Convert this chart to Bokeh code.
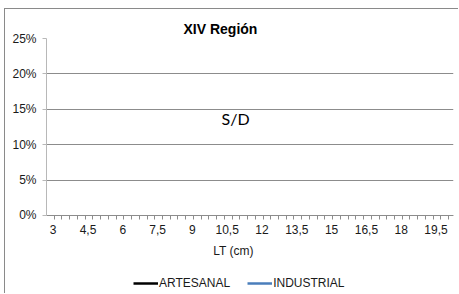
from bokeh.plotting import figure
from bokeh.models import (FixedTicker, CustomJSTickFormatter, Legend, LegendItem,
                          Label, Range1d, InlineStyleSheet)
from bokeh.embed import file_html
from bokeh.resources import INLINE

nan = float("nan")

# ---- data ----
title_text = "XIV Región"
x_title = "LT (cm)"
no_data_text = "S/D"
x_ticks = [3, 4.5, 6, 7.5, 9, 10.5, 12, 13.5, 15, 16.5, 18, 19.5]
x_tick_labels = ["3", "4,5", "6", "7,5", "9", "10,5", "12", "13,5", "15", "16,5", "18", "19,5"]
y_ticks = [0, 0.05, 0.10, 0.15, 0.20, 0.25]
y_tick_labels = ["0%", "5%", "10%", "15%", "20%", "25%"]
series_names = ["ARTESANAL", "INDUSTRIAL"]
series_colors = ["#000000", "#4a7ebb"]
# no data (S/D) for every length class
artesanal = [nan, nan, nan, nan, nan, nan, nan, nan, nan, nan, nan, nan]
industrial = [nan, nan, nan, nan, nan, nan, nan, nan, nan, nan, nan, nan]

# ---- layout ----
x_lo, x_hi = 2.711, 20.254
y_lo, y_hi = -0.1116, 0.25
minor = []
k = 1
while x_lo + k / 3 < x_hi:
    minor.append(x_lo + k / 3)
    k += 1

css = InlineStyleSheet(css=":host { position: absolute; left: 5px; top: 9px; "
                           "box-shadow: -1px -1px 0 0 #8a8a8a; }")

p = figure(width=454, height=285, x_range=Range1d(x_lo, x_hi), y_range=Range1d(y_lo, y_hi),
           output_backend="svg", toolbar_location=None,
           min_border_left=41, min_border_right=6, min_border_top=29, min_border_bottom=0,
           background_fill_color="white", border_fill_color="white",
           outline_line_color=None, stylesheets=[css])

font = "Liberation Sans"
txt_color = "#1a1a1a"

p.title.text = title_text
p.title.align = "left"
p.title.offset = 137
p.title.standoff = 3
p.title.text_font = font
p.title.text_font_size = "14px"
p.title.text_font_style = "bold"
p.title.text_color = "#000000"

xa = p.xaxis[0]
xa.fixed_location = 0
xa.ticker = FixedTicker(ticks=x_ticks, minor_ticks=minor)
xa.formatter = CustomJSTickFormatter(args=dict(tv=x_ticks, tl=x_tick_labels),
                                     code="const i = tv.indexOf(tick); return i < 0 ? '' : tl[i];")
xa.major_tick_out = 0
xa.major_tick_in = 0
xa.minor_tick_out = 4
xa.minor_tick_in = 0
xa.minor_tick_line_color = "#8c8c8c"
xa.axis_line_color = "#8c8c8c"
xa.major_label_standoff = 6
xa.major_label_text_font = font
xa.major_label_text_font_size = "12px"
xa.major_label_text_color = txt_color

ya = p.yaxis[0]
ya.bounds = (0, 0.25)
ya.ticker = FixedTicker(ticks=y_ticks, minor_ticks=[])
ya.formatter = CustomJSTickFormatter(args=dict(tv=y_ticks, tl=y_tick_labels),
                                     code="const i = tv.indexOf(tick); return i < 0 ? '' : tl[i];")
ya.major_tick_out = 4
ya.major_tick_in = 0
ya.minor_tick_out = 0
ya.minor_tick_in = 0
ya.axis_line_color = "#b8b8b8"
ya.major_tick_line_color = "#b8b8b8"
ya.major_label_standoff = 6
ya.major_label_text_font = font
ya.major_label_text_font_size = "12px"
ya.major_label_text_color = txt_color

p.xgrid.visible = False
p.ygrid.ticker = FixedTicker(ticks=y_ticks)
p.ygrid.grid_line_color = "#8c8c8c"

r1 = p.line(x_ticks, artesanal, line_color=series_colors[0], line_width=2.5)
r2 = p.line(x_ticks, industrial, line_color=series_colors[1], line_width=2.5)

legend = Legend(items=[LegendItem(label=series_names[0], renderers=[r1]),
                       LegendItem(label=series_names[1], renderers=[r2])],
                orientation="horizontal", location=(87, 4), padding=0, margin=0,
                spacing=17, label_standoff=1, glyph_width=25, glyph_height=12,
                label_height=12, border_line_color=None, background_fill_alpha=0,
                label_text_font=font, label_text_font_size="12px",
                label_text_color=txt_color)
p.add_layout(legend, "center")

p.add_layout(Label(x=10.77, y=-0.0508, text=x_title, text_align="center",
                   text_baseline="middle", text_font=font, text_font_size="12px",
                   text_color=txt_color))
p.add_layout(Label(x=10.86, y=0.137, text=no_data_text, text_align="center",
                   text_baseline="middle", text_font="Lato", text_font_size="16px",
                   text_color="#000000"))

open("out.html", "w").write(file_html(p, INLINE))
